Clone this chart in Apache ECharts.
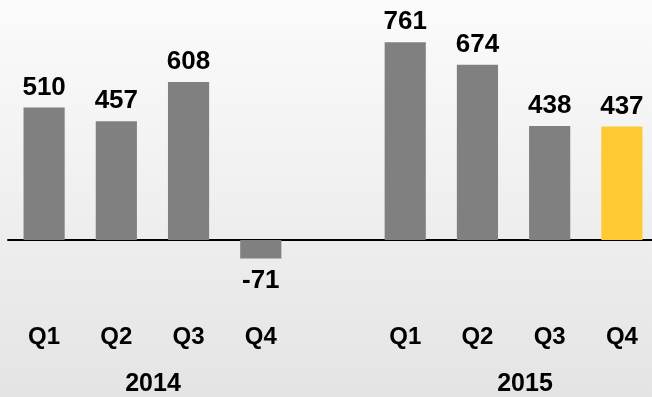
<!DOCTYPE html>
<html><head><meta charset="utf-8">
<script src="https://cdn.jsdelivr.net/npm/echarts@6/dist/echarts.min.js"></script>
<style>html,body{margin:0;padding:0;overflow:hidden;width:652px;height:397px;}#c{width:660px;height:397px;}</style>
</head><body><div id="c"></div>
<script>
var categories = ['Q1','Q2','Q3','Q4','','Q1','Q2','Q3','Q4'];
var values = [510, 457, 608, -71, null, 761, 674, 438, 437];
var years = ['2014', '2015'];
var highlightIndex = 8;

var chart = echarts.init(document.getElementById('c'));
var font = 'Liberation Sans, Arial, sans-serif';
var data = values.map(function (v, i) {
  if (v === null) return '-';
  var item = { value: v, itemStyle: { color: i === highlightIndex ? '#ffc933' : '#808080' } };
  if (v < 0) item.label = { position: 'bottom', distance: 9 };
  return item;
});
chart.setOption({
  backgroundColor: new echarts.graphic.LinearGradient(0, 0, 0, 1, [
    { offset: 0, color: '#fbfbfb' }, { offset: 1, color: '#e4e4e4' }
  ]),
  animation: false,
  grid: { left: 8, width: 650, top: 32, bottom: 105, containLabel: false },
  xAxis: [
    { type: 'category', data: categories, axisLine: { onZero: true, lineStyle: { color: '#000', width: 2 } },
      axisTick: { show: false }, axisLabel: { show: false } },
    { type: 'category', data: categories, position: 'bottom', axisLine: { show: false }, axisTick: { show: false },
      axisLabel: { margin: 33, color: '#000', fontFamily: font, fontWeight: 'bold', fontSize: 24 } }
  ],
  yAxis: { type: 'value', min: -200, max: 800, show: false, splitLine: { show: false } },
  series: [{
    type: 'bar', data: data, barWidth: '57%', xAxisIndex: 0,
    label: { show: true, position: 'top', distance: 7, color: '#000', fontFamily: font, fontWeight: 'bold', fontSize: 26 }
  }],
  graphic: [
    { type: 'text', x: 153, y: 384, style: { text: years[0], fill: '#000', font: 'bold 25px ' + font, align: 'center', verticalAlign: 'middle' } },
    { type: 'text', x: 525, y: 384, style: { text: years[1], fill: '#000', font: 'bold 25px ' + font, align: 'center', verticalAlign: 'middle' } }
  ]
});
</script></body></html>
